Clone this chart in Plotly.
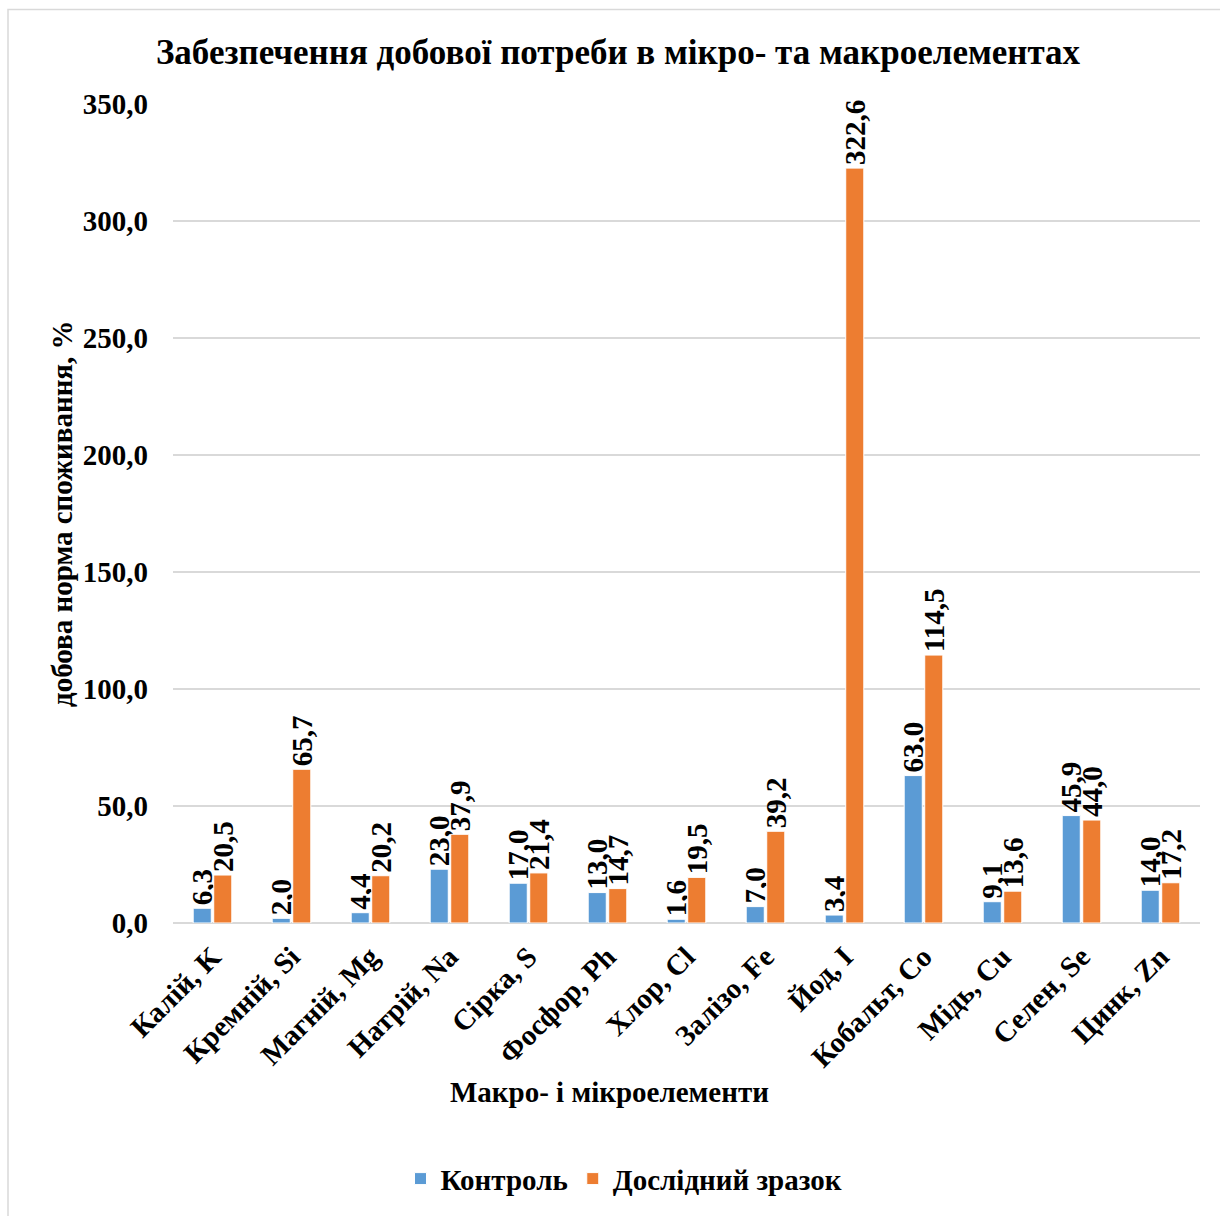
import plotly.graph_objects as go

categories = ["Калій, K", "Кремній, Si", "Магній, Mg", "Натрій, Na", "Сірка, S",
              "Фосфор, Ph", "Хлор, Cl", "Залізо, Fe", "Йод, I", "Кобальт, Co",
              "Мідь, Cu", "Селен, Se", "Цинк, Zn"]
control = [6.3, 2.0, 4.4, 23.0, 17.0, 13.0, 1.6, 7.0, 3.4, 63.0, 9.1, 45.9, 14.0]
sample = [20.5, 65.7, 20.2, 37.9, 21.4, 14.7, 19.5, 39.2, 322.6, 114.5, 13.6, 44.0, 17.2]
y_ticks = [0, 50, 100, 150, 200, 250, 300, 350]

FONT = "Liberation Serif"
FS = 29

def fmt(v):
    return f"{v:.1f}".replace(".", ",")

def lbl(vals):
    return [f"<b>{fmt(v)}</b>" for v in vals]

tf = dict(family=FONT, size=FS, color="black")

fig = go.Figure()
fig.add_trace(go.Bar(
    x=categories, y=control, name="<b>Контроль</b>",
    marker=dict(color="#5B9BD5", line=dict(color="white", width=1)),
    text=lbl(control), textposition="outside", textangle=-90,
    textfont=tf, outsidetextfont=tf,
    cliponaxis=False, constraintext="none",
))
fig.add_trace(go.Bar(
    x=categories, y=sample, name="<b>Дослідний зразок</b>",
    marker=dict(color="#ED7D31", line=dict(color="white", width=1)),
    text=lbl(sample), textposition="outside", textangle=-90,
    textfont=tf, outsidetextfont=tf,
    cliponaxis=False, constraintext="none",
))

fig.update_layout(
    width=1220, height=1216,
    margin=dict(l=173, r=20, t=104, b=289),
    paper_bgcolor="white", plot_bgcolor="white",
    font=dict(family=FONT, color="black"),
    barmode="group", bargap=0.48, bargroupgap=0.12,
    title=dict(text="<b>Забезпечення добової потреби в мікро- та макроелементах</b>",
               x=618 / 1220, xref="container", xanchor="center",
               y=1 - 52 / 1216, yref="container", yanchor="middle",
               font=dict(family=FONT, size=35, color="black")),
    showlegend=True,
    legend=dict(orientation="h", x=(624 - 173) / 1027, xanchor="center",
                y=(927 - 1184) / 823, yanchor="middle",
                font=dict(family=FONT, size=FS, color="black"),
                traceorder="normal"),
    uniformtext=dict(mode=False),
)
fig.update_xaxes(
    tickangle=-45, tickfont=dict(family=FONT, size=FS, color="black"),
    tickprefix="<b>", ticksuffix="</b>", ticklabelstandoff=10,
    showline=False, ticks="", showgrid=False,
)
fig.update_yaxes(
    range=[0, 350], tickvals=y_ticks,
    ticktext=[f"<b>{fmt(v)}</b>" for v in y_ticks],
    tickfont=dict(family=FONT, size=FS, color="black"),
    ticklabelstandoff=24,
    showgrid=True, gridcolor="#D9D9D9", gridwidth=1.5,
    zeroline=True, zerolinecolor="#D9D9D9", zerolinewidth=1.5,
    showline=False, ticks="", ticklen=0,
)
fig.add_annotation(text="<b>Макро- і мікроелементи</b>", xref="paper", yref="paper",
                   x=(609 - 173) / 1027, y=(927 - 1097) / 823, xanchor="center", yanchor="middle",
                   showarrow=False, font=dict(family=FONT, size=FS, color="black"))
fig.add_annotation(text="<b>добова норма споживання, %</b>", xref="paper", yref="paper",
                   x=(62 - 173) / 1027, y=(927 - 516) / 823, xanchor="center", yanchor="middle",
                   textangle=-90, showarrow=False, font=dict(family=FONT, size=FS, color="black"))
fig.add_shape(type="rect", xref="paper", yref="paper",
              x0=(8 - 173) / 1027, x1=(1225 - 173) / 1027,
              y0=(927 - 1225) / 823, y1=(927 - 9) / 823,
              line=dict(color="#D9D9D9", width=1.5), fillcolor="rgba(0,0,0,0)", layer="below")

fig.write_html("out.html")
